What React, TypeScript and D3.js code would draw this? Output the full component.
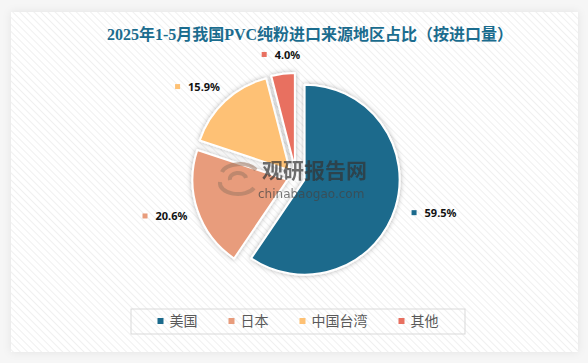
import React from "react";
import * as d3 from "d3";

// chart data
const regions = ["美国", "日本", "中国台湾", "其他"];
const shares = [59.5, 20.6, 15.9, 4.0];
const colors = ["#1b6a8c", "#e89c7c", "#fec174", "#e87060"];
const title = "2025年1-5月我国PVC纯粉进口来源地区占比（按进口量）";

const W = 588;
const H = 363;
const cx = 296;
const cy = 177;
const radius = 95;
const explode = 9;
const labelRadius = 123;

const App = () => {
  const pie = d3.pie<number>().sort(null).value((d) => d);
  const arcs = pie(shares);
  const arc = d3.arc<d3.PieArcDatum<number>>().innerRadius(0).outerRadius(radius);

  // legend layout: marker + gap + text + spacing
  const fs = 14;
  const itemW = regions.map((r) => 5 + 7 + r.length * fs + 31);
  const totalW = d3.sum(itemW) - 31;
  let lx = 298 - totalW / 2;
  const legendX = itemW.map((w) => {
    const x = lx;
    lx += w;
    return x;
  });

  return (
    <svg
      width={W}
      height={H}
      style={{ position: "absolute", left: 0, top: 0, display: "block" }}
    >
      <defs>
        <pattern id="stripes" width="5" height="5" patternUnits="userSpaceOnUse" patternTransform="rotate(-45)">
          <rect width="5" height="5" fill="#ffffff" />
          <line x1="0" y1="0" x2="0" y2="5" stroke="#f0f0f0" strokeWidth="2" />
        </pattern>
        <filter id="panelShadow" x="-5%" y="-5%" width="110%" height="110%">
          <feDropShadow dx="0" dy="0" stdDeviation="4" floodColor="#000" floodOpacity="0.08" />
        </filter>
        <filter id="sliceShadow" x="-20%" y="-20%" width="140%" height="140%">
          <feDropShadow dx="0" dy="0" stdDeviation="2.5" floodColor="#000" floodOpacity="0.3" />
        </filter>
      </defs>

      <rect width={W} height={H} fill="#f6f6f6" />
      <rect x={11} y={12} width={567} height={340} fill="url(#stripes)" filter="url(#panelShadow)" />

      <text
        x={310}
        y={40}
        textAnchor="middle"
        fontSize={16}
        fontWeight="bold"
        fill="#1b6c8e"
        fontFamily="'Liberation Serif', 'Noto Sans CJK SC', serif"
      >
        {title}
      </text>

      <g transform={`translate(${cx},${cy})`}>
        {arcs.map((a, i) => {
          const mid = (a.startAngle + a.endAngle) / 2;
          const dx = Math.sin(mid) * explode;
          const dy = -Math.cos(mid) * explode;
          return (
            <path
              key={regions[i]}
              d={arc(a) || ""}
              transform={`translate(${dx},${dy})`}
              fill={colors[i]}
              stroke="#ffffff"
              strokeWidth={2}
              strokeLinejoin="round"
              filter="url(#sliceShadow)"
            />
          );
        })}
      </g>

      {/* watermark */}
      <g opacity={0.7}>
        <g fill="none" stroke="#a07a64" strokeWidth={4} opacity={0.8}>
          <path d="M 222 172 A 18 10 0 0 1 256 170" />
          <path d="M 220 182 A 18 11 0 0 0 254 188" />
          <path d="M 230 180 A 8 6 0 0 1 246 178" />
        </g>
        <text x={262} y={178} fontSize={21} fontWeight="bold" fill="#333" fontFamily="'Noto Sans CJK SC', sans-serif">
          观研报告网
        </text>
        <text x={258} y={198} fontSize={12} fill="#444" fontFamily="'DejaVu Sans', sans-serif">
          chinabaogao.com
        </text>
      </g>

      {/* data labels */}
      {arcs.map((a, i) => {
        const mid = (a.startAngle + a.endAngle) / 2;
        const ax = cx + Math.sin(mid) * labelRadius;
        const ay = cy - Math.cos(mid) * labelRadius;
        const text = `${shares[i].toFixed(1)}%`;
        const blockW = 5 + 8 + text.length * 6.2;
        const side = Math.sin(mid);
        let x0 = ax - 2;
        if (side < -0.3) x0 = ax + 7 - blockW;
        else if (side <= 0.3) x0 = ax - blockW / 2;
        return (
          <g key={`lbl-${i}`}>
            <rect x={x0} y={ay - 3} width={5} height={5} fill={colors[i]} />
            <text
              x={x0 + 13}
              y={ay + 4}
              fontSize={11}
              fontWeight="bold"
              fill="#111"
              fontFamily="'Noto Sans', sans-serif"
            >
              {text}
            </text>
          </g>
        );
      })}

      {/* legend */}
      <rect x={131} y={309} width={334} height={25} fill="none" stroke="#d9d9d9" strokeWidth={1} />
      {regions.map((r, i) => (
        <g key={`lg-${r}`}>
          <rect x={legendX[i]} y={318} width={6} height={6} fill={colors[i]} />
          <text
            x={legendX[i] + 12}
            y={326}
            fontSize={fs}
            fill="#595959"
            fontFamily="'Noto Sans CJK SC', sans-serif"
          >
            {r}
          </text>
        </g>
      ))}
    </svg>
  );
};

export default App;
